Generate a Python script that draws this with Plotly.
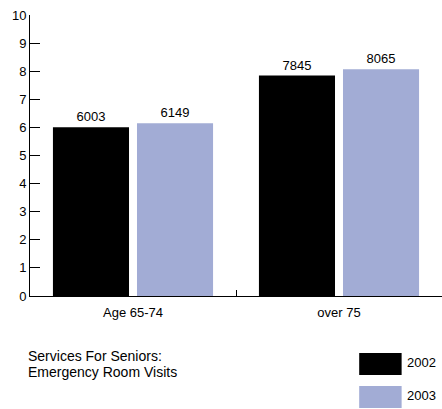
import plotly.graph_objects as go

categories = ["Age 65-74", "over 75"]
visits_2002 = [6003, 7845]
visits_2003 = [6149, 8065]
years = ["2002", "2003"]
colors = ["#000000", "#a2acd5"]

FONT = "Liberation Sans, Arial, Helvetica, sans-serif"

fig = go.Figure()
for year, vals, col in zip(years, [visits_2002, visits_2003], colors):
    fig.add_trace(go.Bar(
        x=categories, y=[v / 1000 for v in vals], name=year,
        marker=dict(color=col, line=dict(width=0)),
        text=[str(v) for v in vals], textposition="outside",
        textfont=dict(size=13, color="black", family=FONT),
        cliponaxis=False, showlegend=False,
    ))

# hand-made legend with big swatches (paper coords, below the plot)
legend_pos = [(-0.2811, -0.2028), (-0.3986, -0.3203)]
for year, col, (y0, y1) in zip(years, colors, legend_pos):
    fig.add_shape(type="rect", xref="paper", yref="paper",
                  x0=0.799, x1=0.902, y0=y0, y1=y1,
                  fillcolor=col, line=dict(width=0))
    fig.add_annotation(xref="paper", yref="paper", x=0.909, y=(y0 + y1) / 2 - 0.03,
                       text=year, showarrow=False, xanchor="left",
                       font=dict(size=13, family=FONT, color="black"))

title_lines = ["Services For Seniors:", "Emergency Room Visits"]
for line, y in zip(title_lines, [-0.245, -0.303]):
    fig.add_annotation(xref="paper", yref="paper", x=-0.007, y=y,
                       text=line, showarrow=False, xanchor="left", borderpad=0,
                       font=dict(size=14, family=FONT, color="black"))

fig.update_layout(
    width=442, height=409,
    margin=dict(l=30, r=0, t=15, b=113),
    paper_bgcolor="white", plot_bgcolor="white",
    barmode="group", bargap=0.184, bargroupgap=0.095,
    font=dict(family=FONT, size=13, color="black"),
    xaxis=dict(showline=True, linecolor="black", linewidth=1,
               ticks="inside", tickson="boundaries", ticklen=6,
               tickcolor="black", showgrid=False, ticklabelstandoff=4),
    yaxis=dict(range=[0, 10], dtick=1, showline=True, linecolor="black",
               linewidth=1, ticks="inside", ticklen=10, tickcolor="black",
               showgrid=False, zeroline=False),
)

fig.write_html("out.html", config={"displayModeBar": False},
               post_script="document.body.style.margin='0';")
